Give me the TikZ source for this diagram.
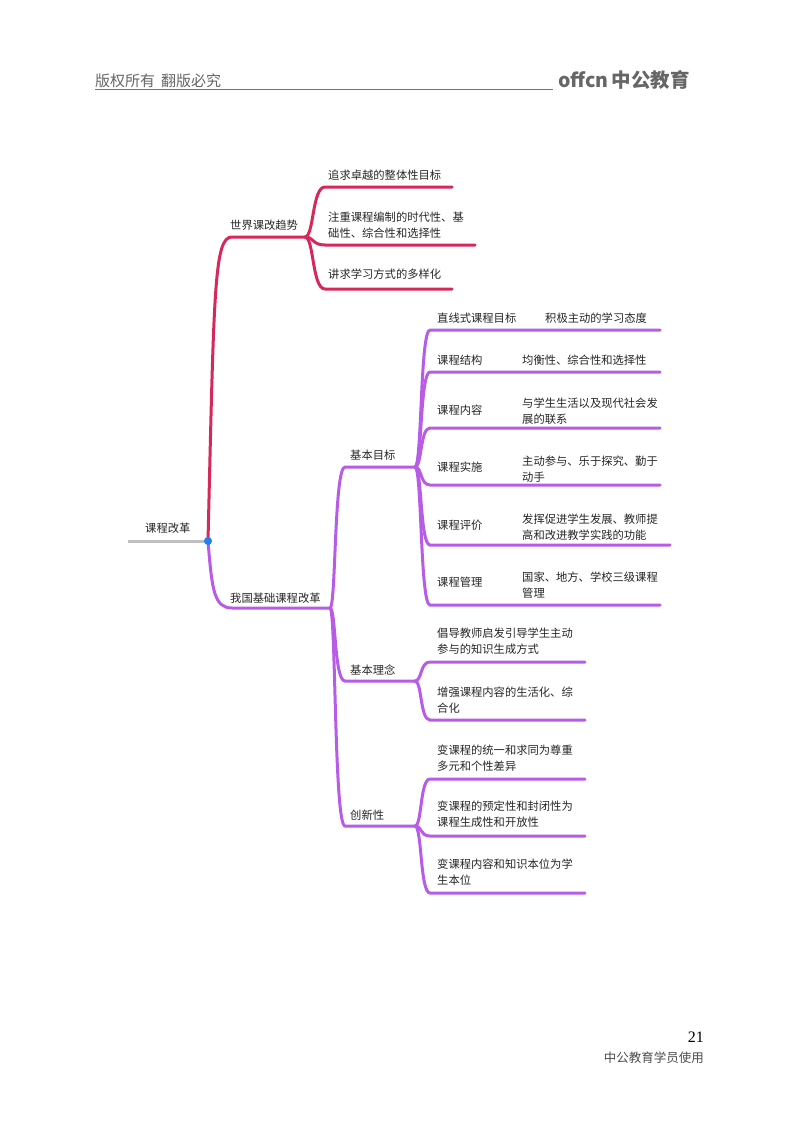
\documentclass[tikz,border=0pt]{standalone}
\usepackage{fontspec}
\setmainfont{Noto Sans CJK SC}
\newfontfamily\serifnum{Liberation Serif}
\definecolor{cred}{RGB}{214,40,90}
\definecolor{cpur}{RGB}{184,92,232}
\definecolor{cblue}{RGB}{30,130,240}
\begin{document}
\begin{tikzpicture}[x=1pt,y=-1pt,
  red/.style={draw=cred,line width=3pt,line cap=round},
  pur/.style={draw=cpur,line width=3pt,line cap=round},
  t/.style={anchor=west,inner sep=0pt,font=\fontsize{11.3}{16}\selectfont,align=left,text=black!85}]
\fill[white] (0,0) rectangle (800,1124);
\useasboundingbox (0,0) rectangle (800,1124);
% header
\node[anchor=west,inner sep=0,text=black!60,font=\fontsize{15}{16}\selectfont] (hd) at (95,81) {版权所有\hspace{6pt}翻版必究};
\coordinate (hl1) at (95,89); \coordinate (hl2) at (553,89);
\draw[black!55,line width=0.8pt] (hl1) -- (hl2);
\node[anchor=west,inner sep=0,text=black!60,font=\fontsize{19.5}{22}\selectfont\bfseries] (logo) at (558,80) {offcn\,中公教育};
% footer
\node[anchor=east,inner sep=0,font=\serifnum\fontsize{16}{18}\selectfont] (pg) at (704,1037) {21};
\node[anchor=east,inner sep=0,text=black!70,font=\fontsize{12.5}{14}\selectfont] (ft) at (704,1058) {中公教育学员使用};
% root
\node[t] (root) at (145,528) {课程改革};
\coordinate (r0) at (128,541); \coordinate (rc) at (208,541);
\draw[black!25,line width=3pt] (r0) -- (rc);
% red branch
\coordinate (a1) at (232,237); \coordinate (a2) at (305,237);
\node[t] (ta) at (230,225) {世界课改趋势};
\draw[red] (rc) .. controls (214,290) and (214,237) .. (a1) -- (a2);
\foreach \y/\e/\n in {187/452/1,245/475/2,289/452/3}{
  \coordinate (as\n) at (325,\y); \coordinate (ae\n) at (\e,\y);
  \draw[red] (a2) .. controls (314,237) and (312,\y) .. (as\n) -- (ae\n);}
\node[t] (a1t) at (328,175) {追求卓越的整体性目标};
\node[t] (a2t) at (328,225) {注重课程编制的时代性、基\\础性、综合性和选择性};
\node[t] (a3t) at (328,274) {讲求学习方式的多样化};
% purple branch
\coordinate (b1) at (232,608); \coordinate (b2) at (330,608);
\node[t] (tb) at (230,598) {我国基础课程改革};
\draw[pur] (rc) .. controls (212,590) and (214,608) .. (b1) -- (b2);
\foreach \y/\n in {467/1,681/2,826/3}{
  \coordinate (bs\n) at (345,\y); \coordinate (be\n) at (415,\y);
  \draw[pur] (b2) .. controls (336,608) and (334,\y) .. (bs\n) -- (be\n);}
\node[t] (b1t) at (350,455) {基本目标};
\node[t] (b2t) at (350,670) {基本理念};
\node[t] (b3t) at (350,815) {创新性};
% children of 基本目标
\foreach \y/\e/\n in {330/660/1,372/660/2,428/660/3,485/660/4,545/670/5,605/660/6}{
  \coordinate (cs\n) at (430,\y); \coordinate (ce\n) at (\e,\y);
  \draw[pur] (be1) .. controls (422,467) and (420,\y) .. (cs\n) -- (ce\n);}
\node[t] (c1) at (437,318) {直线式课程目标};
\node[t] (c1r) at (545,318) {积极主动的学习态度};
\node[t] (c2) at (437,360) {课程结构};
\node[t] (c2r) at (522,360) {均衡性、综合性和选择性};
\node[t] (c3) at (437,410) {课程内容};
\node[t] (c3r) at (522,411) {与学生生活以及现代社会发\\展的联系};
\node[t] (c4) at (437,467) {课程实施};
\node[t] (c4r) at (522,469) {主动参与、乐于探究、勤于\\动手};
\node[t] (c5) at (437,525) {课程评价};
\node[t] (c5r) at (522,527) {发挥促进学生发展、教师提\\高和改进教学实践的功能};
\node[t] (c6) at (437,582) {课程管理};
\node[t] (c6r) at (522,585) {国家、地方、学校三级课程\\管理};
% children of 基本理念
\foreach \y/\n in {662/1,720/2}{
  \coordinate (ds\n) at (430,\y); \coordinate (de\n) at (585,\y);
  \draw[pur] (be2) .. controls (422,681) and (420,\y) .. (ds\n) -- (de\n);}
\node[t] (d1) at (437,641) {倡导教师启发引导学生主动\\参与的知识生成方式};
\node[t] (d2) at (437,700) {增强课程内容的生活化、综\\合化};
% children of 创新性
\foreach \y/\n in {779/1,836/2,893/3}{
  \coordinate (es\n) at (430,\y); \coordinate (ee\n) at (585,\y);
  \draw[pur] (be3) .. controls (422,826) and (420,\y) .. (es\n) -- (ee\n);}
\node[t] (e1) at (437,758) {变课程的统一和求同为尊重\\多元和个性差异};
\node[t] (e2) at (437,814) {变课程的预定性和封闭性为\\课程生成性和开放性};
\node[t] (e3) at (437,872) {变课程内容和知识本位为学\\生本位};
\fill[cblue] (rc) circle (4);
\end{tikzpicture}
\end{document}
